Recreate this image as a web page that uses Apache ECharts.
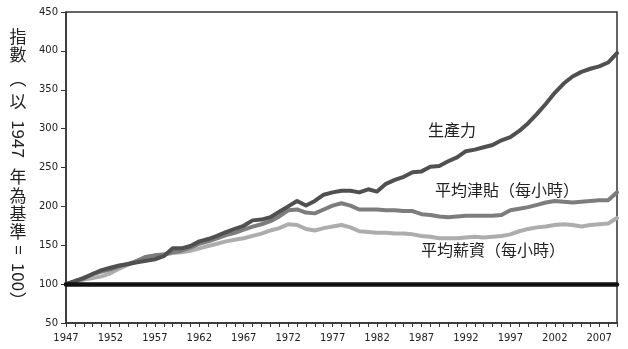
<!DOCTYPE html>
<html>
<head>
<meta charset="utf-8">
<script src="https://cdn.jsdelivr.net/npm/echarts@6/dist/echarts.min.js"></script>
<style>
  html, body { margin: 0; padding: 0; background: #fff; }
  #chart { width: 628px; height: 349px; }
</style>
</head>
<body>
<div id="chart"></div>
<script>
// Years on the horizontal axis
const years = [];
for (let y = 1947; y <= 2009; y++) years.push(String(y));

// Index values, 1947 = 100
const productivity = [
  100, 104, 108, 113, 118, 121, 124, 126, 128, 130,
  132, 136, 146, 146, 149, 155, 158, 162, 167, 171,
  175, 182, 183, 186, 193, 200, 207, 201, 207, 215,
  218, 220, 220, 218, 222, 219, 229, 234, 238, 244,
  245, 251, 252, 258, 263, 271, 273, 276, 279, 285,
  289, 297, 307, 319, 332, 346, 358, 367, 373, 377,
  380, 385, 397
];
const compensation = [
  100, 104, 107, 113, 116, 119, 123, 126, 130, 135,
  137, 138, 141, 143, 147, 152, 155, 159, 163, 166,
  170, 174, 177, 181, 187, 195, 196, 192, 191, 196,
  201, 204, 201, 196, 196, 196, 195, 195, 194, 194,
  190, 189, 187, 186, 187, 188, 188, 188, 188, 189,
  195, 197, 199, 202, 205, 207, 206, 205, 206, 207,
  208, 208, 218
];
const wages = [
  100, 103, 106, 108, 110, 114, 120, 125, 130, 135,
  137, 138, 140, 141, 143, 146, 149, 152, 155, 157,
  159, 162, 165, 169, 172, 177, 176, 171, 169, 172,
  174, 176, 173, 168, 167, 166, 166, 165, 165, 164,
  162, 161, 159, 159, 159, 160, 161, 160, 161, 162,
  164, 168, 171, 173, 174, 176, 177, 176, 174, 176,
  177, 178, 185
];
const baseIndex = 100;

// Y-axis ticks
const yMin = 50, yMax = 450, yStep = 50;

// Series names drawn next to the lines
const seriesNames = ['生產力', '平均津貼（每小時）', '平均薪資（每小時）'];

// Vertical axis title: [text, rotated?, centre y]
const titleParts = [
  ['指', 0, 37], ['數', 0, 55], ['︵', 0, 79], ['以', 0, 102],
  ['1947', 1, 139], ['年', 0, 177], ['為', 0, 196], ['基', 0, 214],
  ['準', 0, 232], ['=', 1, 250], ['100', 1, 277], ['︶', 0, 301]
];

const cjk = '"Noto Sans CJK TC", "Noto Sans CJK SC", sans-serif';
const tickFont = '"DejaVu Sans", Verdana, sans-serif';

const chart = echarts.init(document.getElementById('chart'), null, { renderer: 'canvas' });

const graphics = titleParts.map(([t, rot, y]) => ({
  type: 'text',
  x: 18, y: y,
  rotation: rot ? -Math.PI / 2 : 0,
  style: {
    text: t, fill: '#222', font: '17px ' + cjk,
    textAlign: 'center', textVerticalAlign: 'middle'
  }
}));

// Line labels
[[452, 130, seriesNames[0]], [507, 190, seriesNames[1]], [493, 250, seriesNames[2]]]
  .forEach(([x, y, t]) => graphics.push({
    type: 'text', x: x, y: y,
    style: { text: t, fill: '#222', font: '16px ' + cjk, textAlign: 'center', textVerticalAlign: 'middle' }
  }));

const lineSeries = (name, data, color) => ({
  name: name, type: 'line', data: data,
  symbol: 'none', smooth: false, z: 3,
  lineStyle: { color: color, width: 4, join: 'round', cap: 'round' }
});

chart.setOption({
  animation: false,
  backgroundColor: '#fff',
  grid: {
    left: 66, right: 11, top: 12, bottom: 26,
    show: true, borderColor: '#333', borderWidth: 1.5, backgroundColor: 'transparent'
  },
  xAxis: {
    type: 'category', data: years, boundaryGap: false,
    axisLine: { lineStyle: { color: '#333', width: 1.5 } },
    axisTick: { show: true, interval: 0, length: 4, lineStyle: { color: '#333' } },
    axisLabel: { interval: 4, margin: 10, color: '#222', fontSize: 10, fontFamily: tickFont },
    splitLine: { show: false }
  },
  yAxis: {
    type: 'value', min: yMin, max: yMax, interval: yStep,
    axisLine: { show: true, lineStyle: { color: '#333', width: 1.5 } },
    axisTick: { show: true, length: 5, lineStyle: { color: '#333' } },
    axisLabel: { margin: 8, color: '#222', fontSize: 10, fontFamily: tickFont },
    splitLine: { show: false }
  },
  graphic: graphics,
  series: [
    lineSeries(seriesNames[2], wages, '#adadad'),
    lineSeries(seriesNames[1], compensation, '#7d7d7d'),
    Object.assign(lineSeries(seriesNames[0], productivity, '#505050'), {
      markLine: {
        silent: true, symbol: 'none', z: 5,
        label: { show: false },
        lineStyle: { color: '#111', width: 4.5, type: 'solid', cap: 'round' },
        data: [{ yAxis: baseIndex }]
      }
    })
  ]
});
</script>
</body>
</html>
